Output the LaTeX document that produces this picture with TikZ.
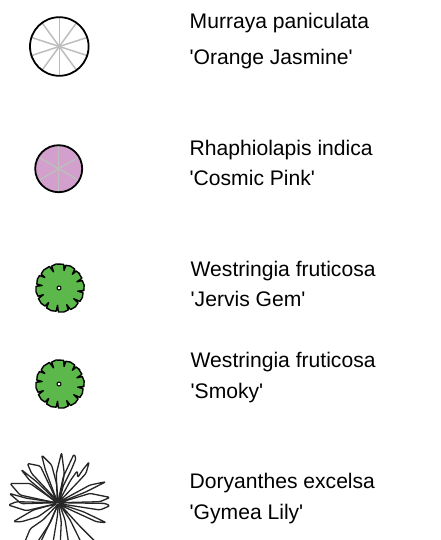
\documentclass[tikz,border=0pt]{standalone}
\usepackage{fontspec}
\setmainfont[Ligatures=TeXOff]{Liberation Sans}
\definecolor{pinkfill}{HTML}{D39FCC}
\definecolor{greenfill}{HTML}{5CB84A}
\definecolor{spoke}{HTML}{BDBDBD}
\tikzset{
  lbl/.style={anchor=base west,inner sep=0pt,font=\fontsize{21.1}{24}\selectfont},
  rim/.style={draw=black,line width=1.8pt},
  spk/.style={draw=spoke,line width=1.5pt},
  gear/.style={draw=black,line width=1.4pt,fill=greenfill,line join=round},
  leaf/.style={draw=black!85,line width=1.3pt,line join=round,rounded corners=1.5pt},
  gearplant/.pic={
    \path[gear] (-40:24) \foreach \a/\d in {-20/18,10/18,38/17.5,68/18,98/17.5,128/18.5,158/18,188/18,215/18.5,248/17.5,283/18,312/18.5}
      { -- (\a-4:24) -- (\a:\d) -- (\a+1.5:23.5) -- (\a+13:24.3) } -- cycle;
    \draw[line width=1pt,fill=white] (-1,0) circle (2);
  }
}
\begin{document}
\begin{tikzpicture}[x=1pt,y=-1pt]
\useasboundingbox (0,0) rectangle (440,540);
% Murraya
\coordinate (m) at (59.3,46.5);
\foreach \a in {18,54,...,342} \draw[spk] (m) -- ++(\a:29);
\draw[spk] (m) -- ++(0,-29) (m) -- ++(0,29);
\draw[rim] (m) circle (29.3);
% Rhaphiolepis
\coordinate (r) at (58.7,168.7);
\fill[pinkfill] (r) circle (23.5);
\foreach \a in {30,90,150,210,270,330} \draw[spk] (r) -- ++(\a:23.5);
\draw[rim] (r) circle (23.5);
% Westringia
\pic at (60,288) {gearplant};
\pic at (60,384) {gearplant};
% Doryanthes
\coordinate (d) at (58.3,502.7);
\begin{scope}[shift={(d)}]
\draw[leaf] (-1,0) -- (-2,-29) -- (3.3,-50.3) -- (6,-29) -- (1,0);
\draw[leaf] (-1,-1) -- (-13,-33) -- (-16.7,-47.7) -- (-6.7,-37.7) -- (-1.7,-19) -- (0,0);
\draw[leaf] (0,-2) -- (5,-26) -- (15.7,-48.7) -- (17.7,-44.3) -- (13,-33) -- (5,-17) -- (1,-2);
\draw[leaf] (0,0) -- (12,-22) -- (19,-32) -- (19.3,-25) -- (24.3,-32.7) -- (31,-41) -- (27.7,-29.3) -- (20,-21) -- (2,-2);
\draw[leaf] (-1,-1) -- (-18,-36.7) -- (-31,-39.3) -- (-26.7,-29.3) -- (-3,-4);
\draw[leaf] (-1,-1) -- (-21.7,-21) -- (-37.3,-33.3) -- (-29,-22.7) -- (-3,-1);
\draw[leaf] (-1,0) -- (-28.3,-19.3) -- (-48.3,-19.3) -- (-38.3,-7.7) -- (-3,0);
\draw[leaf] (-1,0) -- (-32,-4.5) -- (-49,-9.3) -- (-37,1) -- (-2,0);
\draw[leaf] (-2,0) -- (-41.7,-1) -- (-50,2.3) -- (-32,8) -- (-2,1);
\draw[leaf] (-2,1) -- (-25,7.3) -- (-45,19) -- (-36.7,19) -- (-20,14) -- (-2,1);
\draw[leaf] (1,-1) -- (31.7,-17.7) -- (47.7,-21) -- (28,-11) -- (1,0);
\draw[leaf] (1,0) -- (31.7,-9.3) -- (51.7,-5.3) -- (41.7,-1) -- (1,0);
\draw[leaf] (1,0) -- (46.7,0.7) -- (51.7,3) -- (41.7,7.3) -- (1,1);
\draw[leaf] (1,1) -- (25,9) -- (48,20) -- (38,19) -- (1,2);
\draw[leaf] (0,1) -- (-15,17) -- (-28,26) -- (-33,38) (-20,38) -- (-8,20) -- (0,1);
\draw[leaf] (0,1) -- (-8,19) -- (-17,38) (-5,38) -- (-1,14) -- (0,1);
\draw[leaf] (0,1) -- (3,19) -- (2,40) (10,38) -- (6.7,17) -- (1,1);
\draw[leaf] (1,1) -- (11.7,17) -- (22,38) (36,38) -- (22,24) -- (1,1);
\end{scope}
% Labels
\node[lbl] (a1) at (189.5,29) {Murraya paniculata};
\node[lbl] (a2) at (189.5,65) {'Orange Jasmine'};
\node[lbl] (b1) at (189.5,155.5) {Rhaphiolapis indica};
\node[lbl] (b2) at (189.5,185) {'Cosmic Pink'};
\node[lbl] (c1) at (190.5,276) {Westringia fruticosa};
\node[lbl] (c2) at (190.5,306) {'Jervis Gem'};
\node[lbl] (e1) at (190.5,367) {Westringia fruticosa};
\node[lbl] (e2) at (190.5,398) {'Smoky'};
\node[lbl] (f1) at (189.5,488.5) {Doryanthes excelsa};
\node[lbl] (f2) at (189.5,519) {'Gymea Lily'};
\end{tikzpicture}
\end{document}
